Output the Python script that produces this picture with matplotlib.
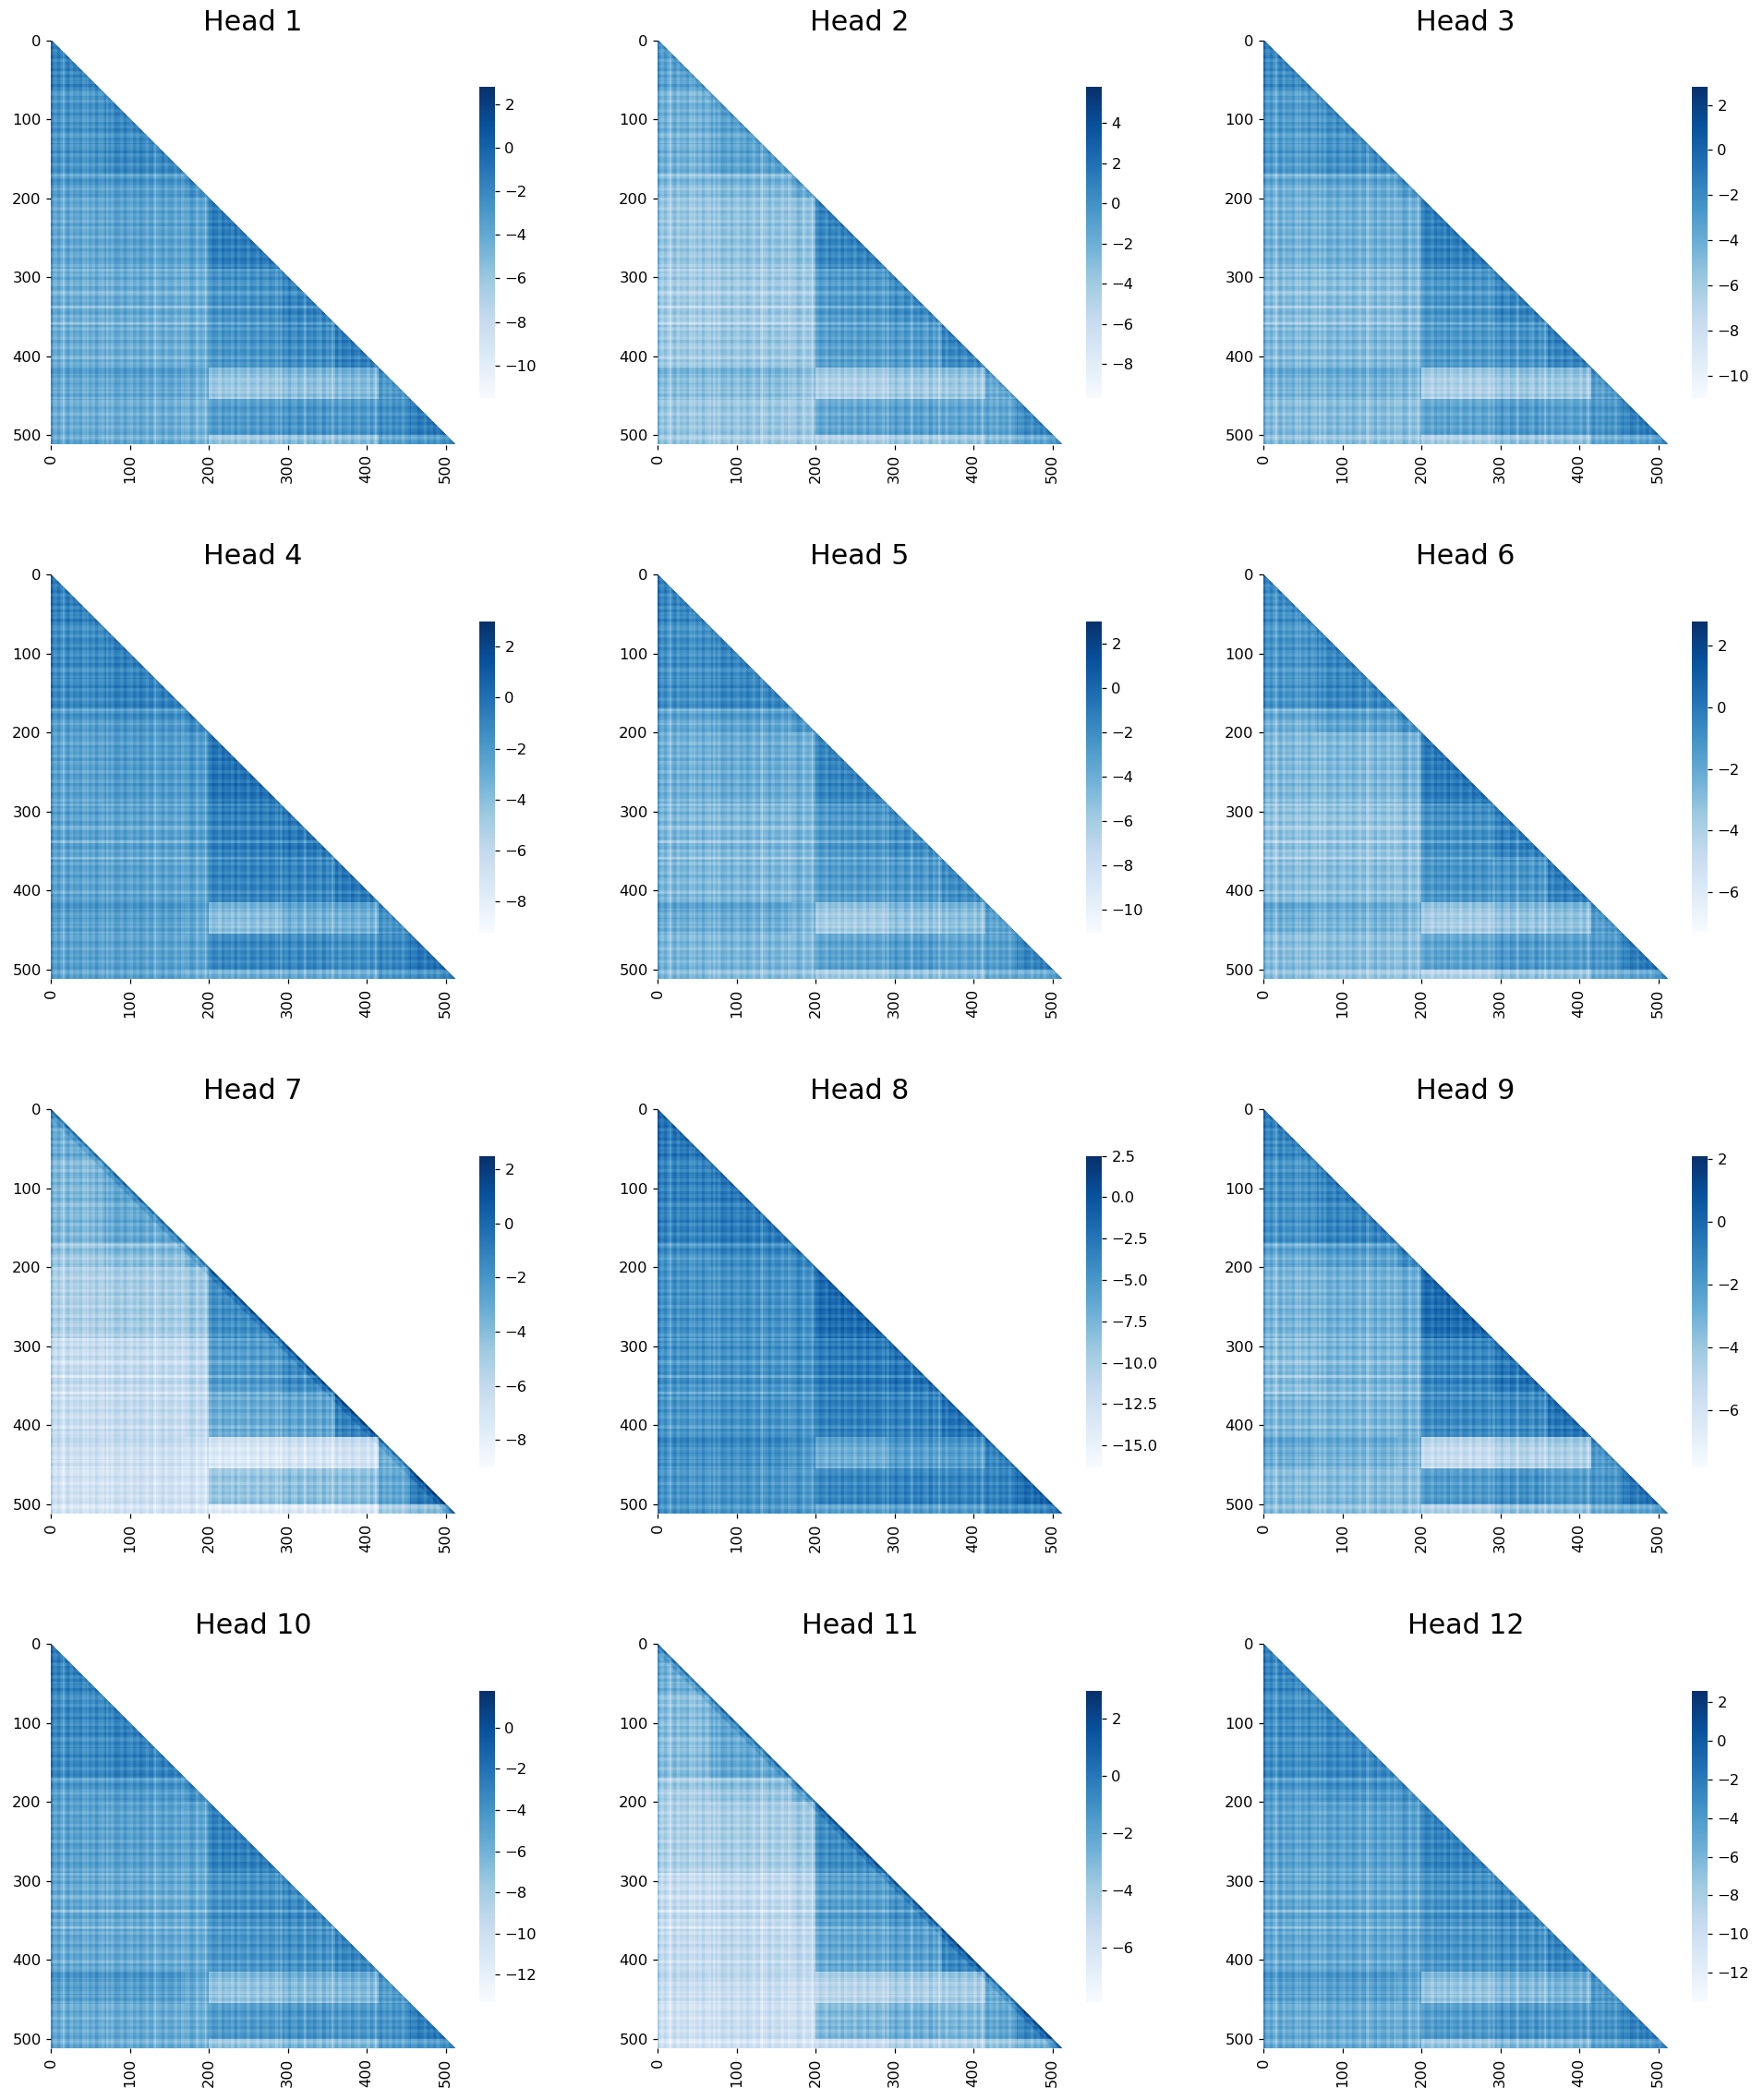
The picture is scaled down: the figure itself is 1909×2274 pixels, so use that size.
import numpy as np
import matplotlib
matplotlib.use("Agg")
import matplotlib.pyplot as plt

# block edges along both axes of the triangular matrix
edges = [0, 65, 170, 200, 290, 360, 415, 455, 500, 512]
axis_ticks = [0, 100, 200, 300, 400, 500]

# colour range of each head's colorbar
vmins = [-11.5, -9.7, -11.0, -9.2, -11.0, -7.3, -9.0, -16.3, -7.8, -13.3, -7.9, -13.5]
vmaxs = [2.8, 5.8, 2.8, 3.0, 3.0, 2.8, 2.5, 2.5, 2.1, 1.8, 3.0, 2.6]

cbar_ticks = [
    [-10, -8, -6, -4, -2, 0, 2],
    [-8, -6, -4, -2, 0, 2, 4],
    [-10, -8, -6, -4, -2, 0, 2],
    [-8, -6, -4, -2, 0, 2],
    [-10, -8, -6, -4, -2, 0, 2],
    [-6, -4, -2, 0, 2],
    [-8, -6, -4, -2, 0, 2],
    [-15, -12.5, -10, -7.5, -5, -2.5, 0, 2.5],
    [-6, -4, -2, 0, 2],
    [-12, -10, -8, -6, -4, -2, 0],
    [-6, -4, -2, 0, 2],
    [-12, -10, -8, -6, -4, -2, 0, 2],
]

# mean level per block, lower triangle, one list per row band
head1 = [[-2.0], [-2.8, -2.2], [-3.1, -2.9, -2.3], [-4.0, -3.7, -3.6, -1.6],
         [-4.3, -4.2, -4.2, -2.7, -1.9], [-4.3, -4.3, -4.2, -2.9, -2.3, -1.6],
         [-3.8, -3.7, -4.1, -5.9, -5.3, -5.0, -3.0],
         [-4.3, -4.3, -4.6, -3.3, -2.9, -3.1, -2.6, -1.6],
         [-3.9, -4.2, -4.6, -5.9, -5.4, -5.3, -3.8, -3.2, -2.6]]
head2 = [[-1.2], [-2.2, -1.3], [-2.8, -2.4, -1.4], [-3.8, -3.5, -3.2, 0.5],
         [-4.2, -4.0, -3.7, -0.7, 0.0], [-4.0, -3.8, -3.7, -1.0, -0.7, 0.4],
         [-2.9, -2.9, -3.3, -4.5, -3.8, -3.7, -1.6],
         [-3.8, -3.8, -3.8, -1.6, -1.2, -1.5, -1.5, 0.0],
         [-3.8, -4.2, -4.2, -4.5, -3.8, -3.8, -2.8, -1.6, -1.0]]
head3 = [[-2.2], [-3.0, -2.5], [-3.8, -3.5, -2.8], [-4.4, -4.3, -4.1, -1.6],
         [-5.0, -5.0, -4.7, -2.7, -1.9], [-4.8, -4.8, -4.7, -2.9, -2.5, -1.8],
         [-4.2, -4.2, -4.5, -6.3, -5.6, -5.6, -3.1],
         [-5.0, -5.0, -5.1, -3.6, -3.0, -3.3, -2.8, -1.8],
         [-5.1, -5.4, -5.4, -6.3, -5.4, -5.4, -4.0, -3.6, -2.8]]
head4 = [[-0.9], [-1.3, -0.9], [-1.9, -1.6, -1.0], [-2.5, -2.2, -2.0, -0.3],
         [-2.5, -2.5, -2.2, -0.8, -0.5], [-2.5, -2.5, -2.5, -1.0, -1.0, -0.5],
         [-2.2, -2.2, -2.5, -3.9, -3.1, -3.1, -1.6],
         [-2.5, -2.5, -2.5, -1.3, -1.3, -1.6, -1.3, -0.5],
         [-2.5, -2.5, -3.0, -3.1, -2.9, -2.9, -2.0, -1.6, -1.1]]
head5 = [[-1.8], [-2.2, -1.8], [-3.4, -3.0, -2.3], [-4.2, -4.0, -4.0, -1.7],
         [-4.6, -4.6, -4.3, -2.7, -2.1], [-4.6, -4.6, -4.3, -3.0, -2.7, -2.1],
         [-3.8, -3.8, -4.3, -5.9, -5.1, -5.0, -3.2],
         [-4.6, -4.6, -4.6, -3.5, -3.0, -3.5, -3.2, -1.8],
         [-4.6, -5.0, -5.0, -5.9, -5.1, -5.0, -4.0, -3.8, -3.0]]
head6 = [[-1.0], [-1.2, -0.7], [-2.1, -1.6, -0.9], [-2.8, -2.8, -2.5, -0.2],
         [-3.2, -3.2, -3.0, -1.0, -0.4], [-3.0, -3.0, -3.0, -1.2, -1.2, -0.4],
         [-2.2, -2.4, -2.6, -3.7, -3.1, -3.0, -1.4],
         [-3.0, -3.0, -3.0, -1.9, -1.4, -1.6, -1.4, -0.4],
         [-3.0, -3.4, -3.4, -4.1, -3.2, -3.2, -2.3, -1.9, -1.1]]
head7 = [[-3.2], [-3.8, -3.0], [-4.4, -3.9, -3.0], [-5.3, -5.0, -4.6, -1.8],
         [-6.2, -6.0, -5.6, -2.4, -1.6], [-6.3, -6.1, -5.8, -3.2, -2.8, -1.2],
         [-6.4, -6.4, -6.6, -7.2, -6.8, -6.6, -3.2],
         [-6.8, -6.7, -6.8, -4.6, -4.2, -4.2, -3.0, -1.0],
         [-6.9, -6.8, -7.0, -7.6, -7.3, -7.1, -5.0, -4.2, -2.8]]
head8 = [[-2.8], [-3.5, -3.1], [-4.4, -3.9, -3.4], [-4.7, -4.7, -4.3, -2.0],
         [-4.7, -4.7, -4.3, -3.0, -2.5], [-5.0, -4.7, -4.7, -3.4, -3.4, -2.5],
         [-4.3, -4.3, -4.7, -6.7, -5.4, -5.4, -3.6],
         [-5.0, -5.0, -5.0, -3.9, -3.6, -3.9, -3.6, -2.2],
         [-4.7, -5.0, -5.0, -6.0, -5.4, -5.4, -4.3, -3.9, -3.3]]
head9 = [[-1.3], [-1.7, -1.2], [-2.5, -2.1, -1.3], [-3.2, -3.0, -2.7, -0.3],
         [-3.5, -3.2, -3.0, -1.2, -0.6], [-3.2, -3.2, -3.0, -1.4, -1.3, -0.6],
         [-2.7, -2.9, -3.2, -5.3, -4.6, -4.4, -1.9],
         [-3.5, -3.5, -3.5, -2.1, -1.7, -2.1, -1.9, -0.8],
         [-3.5, -3.7, -3.9, -4.6, -3.7, -3.7, -2.9, -2.5, -2.0]]
head10 = [[-3.1], [-3.5, -3.1], [-4.4, -4.1, -3.5], [-5.0, -5.0, -5.0, -3.0],
          [-5.4, -5.4, -5.3, -3.9, -3.5], [-5.4, -5.4, -5.3, -4.2, -3.9, -3.3],
          [-4.6, -4.6, -5.3, -7.1, -6.4, -6.3, -4.4],
          [-5.6, -5.6, -5.6, -4.6, -4.2, -4.4, -4.2, -3.0],
          [-5.4, -5.7, -5.9, -7.3, -6.4, -6.3, -5.0, -4.4, -3.8]]
head11 = [[-2.6], [-3.2, -2.2], [-3.9, -3.4, -2.3], [-4.4, -4.2, -3.8, -1.0],
          [-5.2, -5.0, -4.5, -1.8, -1.2], [-5.2, -5.0, -4.8, -2.2, -1.8, -0.7],
          [-5.2, -5.2, -5.3, -4.6, -4.1, -4.0, -2.2],
          [-5.7, -5.5, -5.5, -3.1, -2.6, -3.0, -2.2, -0.8],
          [-5.9, -5.8, -5.8, -5.3, -4.5, -4.5, -3.6, -2.8, -1.8]]
head12 = [[-2.9], [-3.3, -3.0], [-3.9, -3.5, -3.1], [-4.7, -4.7, -4.3, -2.7],
          [-5.0, -5.0, -4.7, -3.5, -2.9], [-5.0, -5.0, -4.7, -3.8, -3.4, -2.7],
          [-4.3, -4.3, -4.7, -6.9, -6.1, -5.7, -3.8],
          [-5.3, -5.3, -5.3, -4.3, -3.8, -4.0, -3.8, -2.7],
          [-5.1, -5.4, -5.7, -7.2, -6.2, -6.1, -4.7, -4.0, -3.3]]
heads = [head1, head2, head3, head4, head5, head6,
         head7, head8, head9, head10, head11, head12]

# how much darker the cells hugging the diagonal are, share of the colour range
diag_near = [.03, .05, .05, .03, .03, .05, .16, .06, .06, .03, .16, .03]
diag_far = [.01, .02, .02, .01, .01, .02, .08, .02, .02, .01, .08, .01]

# stripes seen in the maps: position, shift as share of the colour range
col_stripes = [(15, -.1), (45, -.08), (70, -.09), (130, -.12), (165, -.1), (183, -.05),
               (195, -.12), (290, -.12), (320, -.06), (340, -.08), (355, -.1), (410, -.1)]
row_stripes = [(48, -.06), (68, -.08), (118, -.05), (128, -.07), (170, -.08), (188, -.1),
               (197, -.06), (290, -.1), (318, -.08), (337, -.1), (358, -.12), (402, -.04),
               (420, .08), (432, -.05), (440, -.08), (452, -.12), (503, -.06)]

# fine plaid shared by rows and columns, one value per four cells
fine_plaid = [.03, -.02, .04, -.03, .01, .05, -.04, .02, -.01, .04, -.05, .03, .02, -.03, .05, -.02,
              -.04, .03, .01, -.05, .04, .02, -.03, .05, -.01, -.04, .03, -.02, .05, .01, -.05, .02,
              .04, -.03, -.01, .05, -.04, .02, .03, -.05, .01, .04, -.02, -.03, .05, .02, -.04, .01,
              -.02, .05, -.03, .03, .01, -.05, .04, -.01, .02, -.04, .05, -.03, .01, .03, -.05, .04,
              .02, -.04, .05, -.01, -.03, .04, .01, -.05, .03, .02, -.03, .05, -.02, -.04, .04, .01,
              -.05, .03, -.01, .04, -.03, .02, .05, -.04, .01, -.02, .04, -.05, .03, .01, -.03, .05,
              -.01, -.04, .03, .02, -.05, .04, -.02, .01, .05, -.03, .02, -.04, .04, -.01, .03, -.05,
              .02, .05, -.03, -.02, .04, .01, -.05, .03, -.01, .04, -.03, .02, .05, -.04, .01, .03]


def stripe_profile(stripes):
    prof = np.repeat(fine_plaid, 4)
    for pos, shift in stripes:
        prof[pos:pos + 3] += shift
    return prof


def build_matrix(blocks, span, near, far):
    data = np.full((512, 512), np.nan)
    for r, row in enumerate(blocks):
        for c, val in enumerate(row):
            data[edges[r]:edges[r + 1], edges[c]:edges[c + 1]] = val
    rows = stripe_profile(row_stripes)
    cols = stripe_profile(col_stripes)
    cols[:2] += .12
    data = data + span * (rows[:, None] + cols[None, :])
    dist = np.abs(np.subtract.outer(np.arange(512), np.arange(512)))
    data[dist < 12] += span * far
    data[dist < 4] += span * near
    data[np.triu_indices(512, 1)] = np.nan
    return data


W, H = 1909, 2274
fig = plt.figure(figsize=(W / 200, H / 200), dpi=200)

lefts = [55, 712, 1368]
tops = [43.5, 622, 1201, 1780]
side = 438

for n in range(12):
    left = lefts[n % 3]
    top = tops[n // 3]
    ax = fig.add_axes([left / W, 1 - (top + side) / H, side / W, side / H])
    span = vmaxs[n] - vmins[n]
    data = build_matrix(heads[n], span, diag_near[n], diag_far[n])
    im = ax.imshow(data, cmap="Blues", vmin=vmins[n], vmax=vmaxs[n],
                   extent=(0, 512, 512, 0), aspect="equal")
    for s in ax.spines.values():
        s.set_visible(False)
    ax.set_xticks(axis_ticks)
    ax.set_yticks(axis_ticks)
    ax.tick_params(labelsize=5.9, length=1.9, width=0.45, pad=1.8)
    ax.tick_params(axis="x", labelrotation=90)
    ax.set_title(f"Head {n + 1}", fontsize=10.8, pad=3.8)

    cax = fig.add_axes([(left + 464) / W, 1 - (top + 387.5) / H, 17 / W, 337 / H])
    cbar = fig.colorbar(im, cax=cax, ticks=cbar_ticks[n])
    cbar.outline.set_visible(False)
    cbar.ax.tick_params(labelsize=5.9, length=1.9, width=0.45, pad=1.8)

fig.savefig("out.png", dpi=200)
